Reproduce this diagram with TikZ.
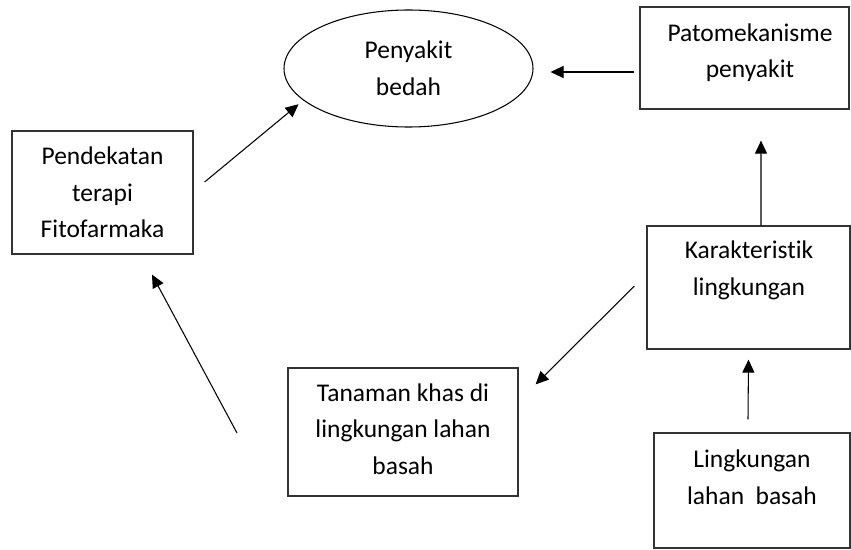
\documentclass[tikz,border=0pt]{standalone}
\usepackage{fontspec}
\setmainfont{Carlito}[Ligatures={NoCommon}]
\usetikzlibrary{arrows.meta,shapes.geometric}

\begin{document}
\begin{tikzpicture}[
	kotak/.style={draw=black!80,line width=0.7pt,rectangle,inner sep=0pt},
	teks/.style={align=center,font=\fontsize{14.5}{20.8}\selectfont},
	panah/.style={line width=0.6pt,-{Triangle[length=0.26cm,width=0.24cm]}}]
	
	\useasboundingbox (0,0) rectangle (17.02,-11);
	
	%ellipse
	\node[ellipse,draw,line width=0.6pt,minimum width=4.98cm,minimum height=2.34cm,teks](sakit) at (8.17,-1.37) {Penyakit\\bedah};
	%boxes
	\node[kotak,teks,minimum width=3.62cm,minimum height=2.46cm](terapi) at (2.05,-3.85) {Pendekatan\\terapi\\Fitofarmaka};
	\node[kotak,minimum width=4.18cm,minimum height=2.04cm](pato) at (14.89,-1.16) {};
	\node[teks](pato-t) at (15.0,-1.05) {Patomekanisme\\penyakit};
	\node[kotak,minimum width=4.06cm,minimum height=2.46cm](karakter) at (14.97,-5.75) {};
	\node[teks](karakter-t) at (14.98,-5.41) {Karakteristik\\lingkungan};
	\node[kotak,minimum width=4.6cm,minimum height=2.56cm](tanaman) at (8.06,-8.64) {};
	\node[teks](tanaman-t) at (8.06,-8.58) {Tanaman khas di\\lingkungan lahan\\basah};
	\node[kotak,minimum width=3.92cm,minimum height=2.3cm](lahan) at (15.04,-9.81) {};
	\node[teks](lahan-t) at (15.04,-9.55) {Lingkungan\\lahan\ \ basah};
	\coordinate (ujung) at (4.74,-8.66);
	
	%arrows
	\draw[panah] ([xshift=-0.1cm,yshift=-0.28cm]pato.west) -- ([xshift=0.34cm,yshift=-0.07cm]sakit.east);
	\draw[panah] ([xshift=0.22cm,yshift=0.21cm]terapi.east) -- ([xshift=-0.43cm,yshift=0.12cm]sakit.south west);
	\draw[panah] (ujung) -- ([xshift=0.99cm,yshift=-0.4cm]terapi.south);
	\draw[panah] ([xshift=0.25cm]karakter.north) -- ([xshift=0.33cm,yshift=-0.62cm]pato.south);
	\draw[panah] ([xshift=-0.24cm,yshift=0.03cm]karakter.west) -- ([xshift=0.34cm,yshift=-0.34cm]tanaman.north east);
	\draw[panah] ([xshift=-0.08cm,yshift=0.26cm]lahan.north) -- ([yshift=-0.2cm]karakter.south);
\end{tikzpicture}
\end{document}
